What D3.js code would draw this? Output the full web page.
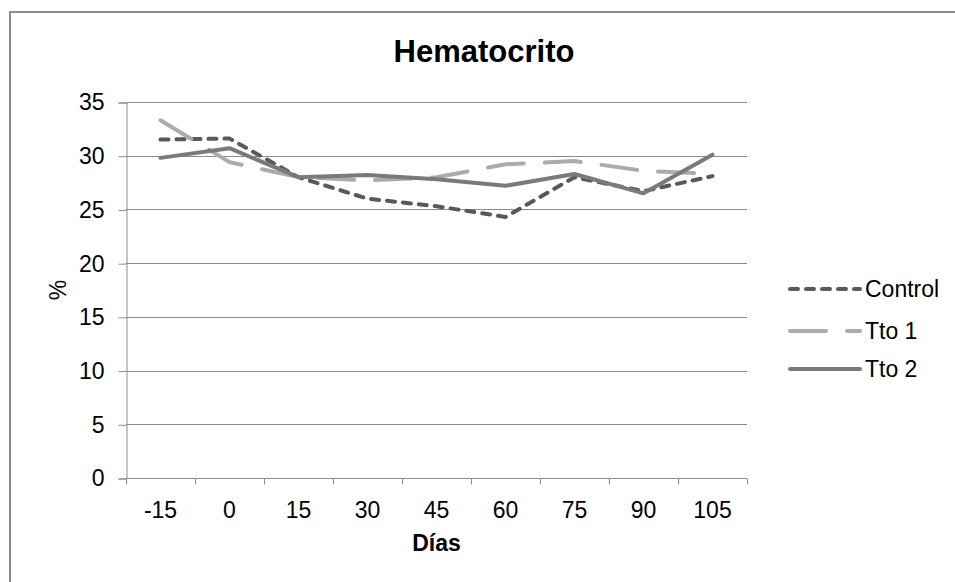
<!DOCTYPE html>
<html>
<head>
<meta charset="utf-8">
<script src="https://cdn.jsdelivr.net/npm/d3@7"></script>
<style>
  body { margin: 0; background: #fff; }
  svg { font-family: "Liberation Sans", Arial, sans-serif; }
</style>
</head>
<body>
<div id="container"></div>
<script>
// data
var dias = ["-15", "0", "15", "30", "45", "60", "75", "90", "105"];
var control = [31.5, 31.6, 28.0, 26.0, 25.3, 24.3, 28.0, 26.7, 28.1];
var tto1 = [33.3, 29.4, 28.0, 27.7, 28.0, 29.2, 29.5, 28.6, 28.3];
var tto2 = [29.8, 30.7, 28.0, 28.2, 27.8, 27.2, 28.3, 26.5, 30.1];
var yTicks = [0, 5, 10, 15, 20, 25, 30, 35];

var series = [
  { name: "Control", values: control, color: "#595959", dash: "8,8" },
  { name: "Tto 1", values: tto1, color: "#ababab", dash: "36,21" },
  { name: "Tto 2", values: tto2, color: "#7a7a7a", dash: null }
];

var width = 955, height = 582;
var plot = { left: 126, right: 747, top: 102, bottom: 478 };
var fontSize = "23px";

var svg = d3.select("#container").append("svg")
    .attr("width", width)
    .attr("height", height);

// outer chart frame
svg.append("rect")
    .attr("x", 10).attr("y", 12)
    .attr("width", 960).attr("height", 600)
    .attr("fill", "none")
    .attr("stroke", "#8c8c8c")
    .attr("stroke-width", 2);

var x = d3.scaleBand()
    .domain(dias)
    .range([plot.left, plot.right]);

var y = d3.scaleLinear()
    .domain([0, 35])
    .range([plot.bottom, plot.top]);

// gridlines
svg.append("g")
  .selectAll("line")
  .data(yTicks.filter(function(d) { return d > 0; }))
  .enter().append("line")
    .attr("x1", plot.left).attr("x2", plot.right)
    .attr("y1", function(d) { return Math.round(y(d)) + 0.5; })
    .attr("y2", function(d) { return Math.round(y(d)) + 0.5; })
    .attr("stroke", "#8c8c8c")
    .attr("stroke-width", 1);

// y axis
var yAxis = svg.append("g")
    .attr("transform", "translate(" + (plot.left + 0.5) + ",0.5)")
    .call(d3.axisLeft(y).tickValues(yTicks).tickSize(8).tickPadding(14));
yAxis.select(".domain").attr("stroke", "#8c8c8c");
yAxis.selectAll(".tick line").attr("stroke", "#8c8c8c");
yAxis.selectAll(".tick text")
    .attr("fill", "#000")
    .style("font-size", fontSize)
    .style("font-family", "Liberation Sans, Arial, sans-serif");

// x axis: ticks on category boundaries
var xAxisG = svg.append("g")
    .attr("transform", "translate(0," + (plot.bottom + 0.5) + ")");
xAxisG.append("line")
    .attr("x1", plot.left).attr("x2", plot.right)
    .attr("stroke", "#8c8c8c");
var bounds = dias.map(function(d) { return x(d); }).concat([x(dias[dias.length - 1]) + x.bandwidth()]);
xAxisG.selectAll("line.tk")
  .data(bounds)
  .enter().append("line")
    .attr("class", "tk")
    .attr("x1", function(d) { return Math.round(d) + 0.5; })
    .attr("x2", function(d) { return Math.round(d) + 0.5; })
    .attr("y1", 0).attr("y2", 6)
    .attr("stroke", "#8c8c8c");
xAxisG.selectAll("text")
  .data(dias)
  .enter().append("text")
    .attr("x", function(d) { return x(d) + x.bandwidth() / 2; })
    .attr("y", 39)
    .attr("text-anchor", "middle")
    .style("font-size", fontSize)
    .text(function(d) { return d; });

// axis titles
svg.append("text")
    .attr("x", (plot.left + plot.right) / 2)
    .attr("y", 551)
    .attr("text-anchor", "middle")
    .style("font-size", fontSize)
    .style("font-weight", "bold")
    .text("Días");

svg.append("text")
    .attr("transform", "translate(66,290) rotate(-90)")
    .attr("text-anchor", "middle")
    .style("font-size", fontSize)
    .text("%");

// title
svg.append("text")
    .attr("x", 484)
    .attr("y", 62)
    .attr("text-anchor", "middle")
    .style("font-size", "31px")
    .style("font-weight", "bold")
    .text("Hematocrito");

// series lines
var line = d3.line()
    .x(function(d, i) { return x(dias[i]) + x.bandwidth() / 2; })
    .y(function(d) { return y(d); });

svg.append("g")
  .selectAll("path")
  .data(series)
  .enter().append("path")
    .attr("d", function(d) { return line(d.values); })
    .attr("fill", "none")
    .attr("stroke", function(d) { return d.color; })
    .attr("stroke-width", 4)
    .attr("stroke-linecap", "round")
    .attr("stroke-linejoin", "round")
    .attr("stroke-dasharray", function(d) { return d.dash; });

// legend
var legendY = [289, 331, 369];
var legend = svg.append("g")
  .selectAll("g")
  .data(series)
  .enter().append("g")
    .attr("transform", function(d, i) { return "translate(790," + legendY[i] + ")"; });
legend.append("line")
    .attr("x1", 0).attr("x2", 70)
    .attr("stroke", function(d) { return d.color; })
    .attr("stroke-width", 4)
    .attr("stroke-linecap", "round")
    .attr("stroke-dasharray", function(d) { return d.dash; });
legend.append("text")
    .attr("x", 75)
    .attr("y", 8)
    .style("font-size", fontSize)
    .text(function(d) { return d.name; });
</script>
</body>
</html>
